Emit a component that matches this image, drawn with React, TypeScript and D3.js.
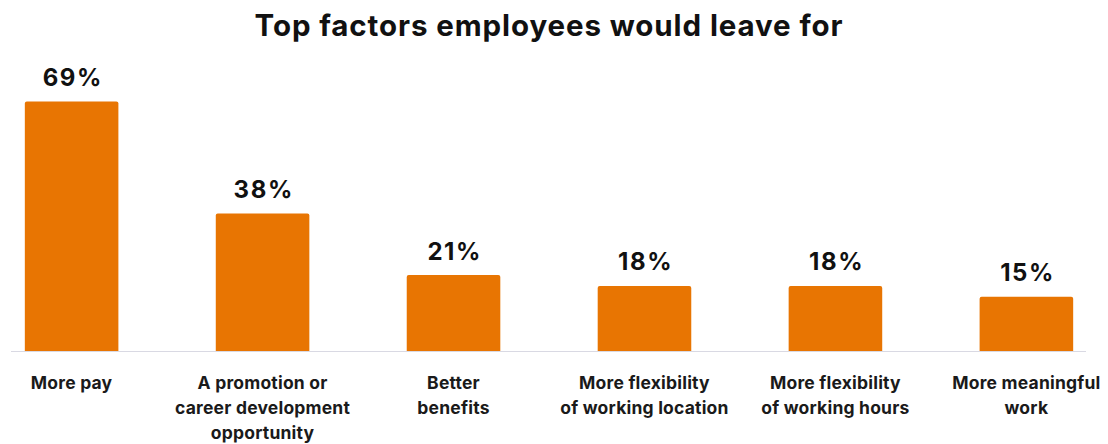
import React from "react";
import * as d3 from "d3";

const categories = [
  ["More pay"],
  ["A promotion or", "career development", "opportunity"],
  ["Better", "benefits"],
  ["More flexibility", "of working location"],
  ["More flexibility", "of working hours"],
  ["More meaningful", "work"],
];
const values = [69, 38, 21, 18, 18, 15];
const title = "Top factors employees would leave for";

const W = 1108;
const H = 444;
const baseY = 351;
const FONT = "Inter, 'Open Sans', sans-serif";

export default function App() {
  const keys = categories.map((c) => c.join(" "));
  const x = d3.scaleBand<string>().domain(keys).range([0, 1098]).paddingInner(0.51).paddingOuter(0.13);
  const y = d3.scaleLinear().domain([0, 69]).range([baseY, 101.5]);
  const bw = x.bandwidth();
  return (
    <svg width={W} height={H} style={{ position: "absolute", left: 0, top: 0 }} fontFamily={FONT}>
      <text x={549} y={36} textAnchor="middle" fontSize={29.5} fontWeight={700} letterSpacing={0.9} fill="#111">
        {title}
      </text>
      {values.map((v, i) => {
        const k = keys[i];
        const x0 = x(k)!;
        const yt = y(v);
        const r = 2;
        const path = `M${x0},${baseY} V${yt + r} Q${x0},${yt} ${x0 + r},${yt} H${x0 + bw - r} Q${x0 + bw},${yt} ${x0 + bw},${yt + r} V${baseY} Z`;
        return (
          <g key={k}>
            <path d={path} fill="#E87502" />
            <text x={x0 + bw / 2 + 1.2} y={yt - 15.5} textAnchor="middle" fontSize={24} fontWeight={700} letterSpacing={1.6} fill="#111">
              {v}%
            </text>
            {categories[i].map((line, j) => (
              <text key={j} x={x0 + bw / 2} y={388.5 + j * 25} textAnchor="middle" fontSize={17.5} fontWeight={700} letterSpacing={0.2} fill="#1a1a1a">
                {line}
              </text>
            ))}
          </g>
        );
      })}
      <line x1={11} x2={1086} y1={baseY + 0.5} y2={baseY + 0.5} stroke="#d9d9e3" strokeWidth={1.2} />
    </svg>
  );
}
